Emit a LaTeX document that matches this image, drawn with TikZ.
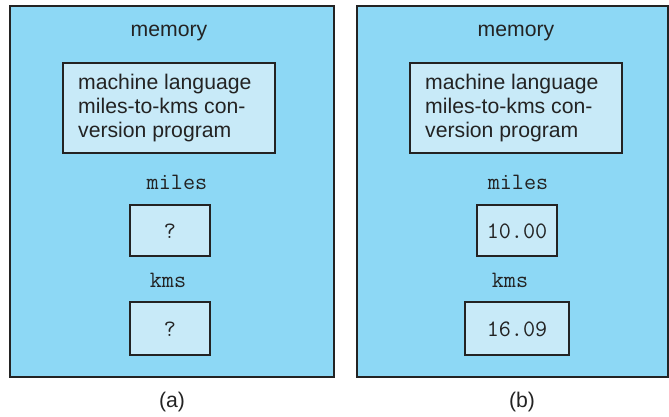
\documentclass[tikz,border=0pt]{standalone}
\usepackage{fontspec}
\setmainfont{Liberation Sans}
\definecolor{panelblue}{RGB}{141,216,245}
\definecolor{cellblue}{RGB}{200,234,248}
\definecolor{edge}{RGB}{35,35,35}
\begin{document}
\begin{tikzpicture}[x=1pt,y=-1pt,
  panel/.style={draw=edge,line width=1.8pt,fill=panelblue},
  cell/.style={draw=edge,line width=1.8pt,fill=cellblue},
  sanstext/.style={font=\fontsize{21.2}{24}\selectfont,text=edge,inner sep=0pt},
  monotext/.style={font=\fontsize{23.5}{24}\selectfont\ttfamily,text=edge,inner sep=0pt}]
\useasboundingbox (0,0) rectangle (669,416);
% panel (a)
\draw[panel] (10,6) rectangle (334,377);
\node[sanstext] (mema) at (169,33) {memory};
\draw[cell] (63,63) rectangle (275,153);
\node[sanstext,anchor=west,align=left] (proga) at (78,108) {machine language\\miles-to-kms con-\\version program};
\node[monotext] (milesa) at (177,182) {miles};
\draw[cell] (130,205) rectangle (210,256);
\node[monotext] (qa) at (170,231) {?};
\node[monotext] (kmsa) at (168,280) {kms};
\draw[cell] (130,302) rectangle (210,355);
\node[monotext] (qb) at (170,329) {?};
\node[sanstext] (capa) at (172,402) {(a)};
% panel (b)
\draw[panel] (357,6) rectangle (668,377);
\node[sanstext] (memb) at (516,33) {memory};
\draw[cell] (410,63) rectangle (622,153);
\node[sanstext,anchor=west,align=left] (progb) at (425,108) {machine language\\miles-to-kms con-\\version program};
\node[monotext] (milesb) at (518,182) {miles};
\draw[cell] (477,205) rectangle (557,256);
\node[monotext] (vmiles) at (517,231) {10.00};
\node[monotext] (kmsb) at (510,280) {kms};
\draw[cell] (465,302) rectangle (569,355);
\node[monotext] (vkms) at (517,329) {16.09};
\node[sanstext] (capb) at (522,402) {(b)};
\end{tikzpicture}
\end{document}
